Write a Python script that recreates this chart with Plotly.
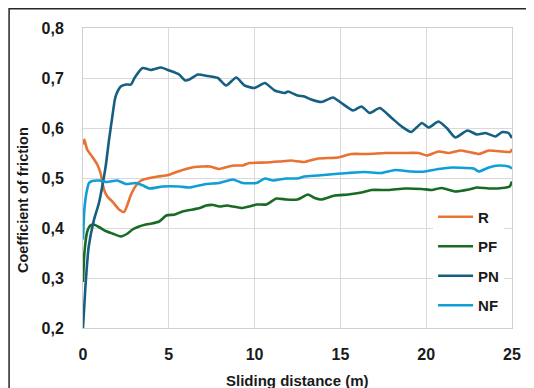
import plotly.graph_objects as go

# ---- data ----
r_x = [0, 0.08, 0.24, 0.53, 0.83, 1.02, 1.22, 1.42, 1.71, 2.1, 2.4, 2.8, 3.09, 3.39, 3.88, 4.37, 4.96,
       5.45, 6.0, 6.5, 7.0, 7.4, 7.9, 8.5, 8.83, 9.3, 9.7, 10.68, 11.46, 12.13, 12.9, 13.7, 14.86, 15.64,
       16.6, 17.6, 18.57, 19.55, 20.04, 20.72, 21.3, 22.0, 22.5, 23.07, 23.65, 24.43, 24.9, 25.0]
r_y = [0.567, 0.577, 0.557, 0.543, 0.527, 0.51, 0.477, 0.463, 0.453, 0.437, 0.432, 0.467, 0.485, 0.495,
       0.50, 0.503, 0.506, 0.512, 0.518, 0.522, 0.523, 0.523, 0.518, 0.523, 0.525, 0.525, 0.53, 0.531,
       0.533, 0.535, 0.532, 0.539, 0.541, 0.548, 0.548, 0.55, 0.55, 0.55, 0.545, 0.553, 0.55, 0.555,
       0.552, 0.548, 0.555, 0.553, 0.552, 0.558]

pf_x = [0, 0.08, 0.24, 0.43, 0.63, 0.93, 1.32, 1.71, 2.2, 2.6, 2.88, 3.19, 3.66, 4.0, 4.44, 4.86, 5.35,
        5.8, 6.4, 6.8, 7.17, 7.6, 7.95, 8.4, 8.73, 9.3, 9.7, 10.1, 10.68, 11.27, 11.85, 12.5, 12.7, 13.1,
        13.5, 13.9, 14.67, 15.45, 16.23, 16.8, 17.8, 18.77, 19.75, 20.33, 20.9, 21.7, 22.48, 22.97,
        23.65, 24.43, 24.86, 25.0]
pf_y = [0.292, 0.349, 0.392, 0.405, 0.407, 0.402, 0.394, 0.389, 0.383, 0.389, 0.397, 0.402, 0.407,
        0.409, 0.413, 0.425, 0.427, 0.433, 0.437, 0.44, 0.445, 0.446, 0.443, 0.445, 0.443, 0.44, 0.443,
        0.447, 0.447, 0.459, 0.457, 0.457, 0.46, 0.467, 0.46, 0.457, 0.465, 0.467, 0.471, 0.476, 0.476,
        0.479, 0.478, 0.476, 0.48, 0.473, 0.477, 0.481, 0.479, 0.48, 0.483, 0.493]

pn_x = [0, 0.14, 0.33, 0.63, 0.93, 1.12, 1.32, 1.52, 1.71, 1.85, 1.95, 2.2, 2.5, 2.8, 3.0, 3.47, 3.96,
        4.54, 5.03, 5.6, 5.96, 6.2, 6.69, 7.27, 7.86, 8.34, 8.93, 9.42, 10.0, 10.6, 11.17, 11.75, 11.95,
        12.5, 12.9, 13.3, 13.9, 14.57, 15.06, 15.74, 16.23, 16.7, 17.3, 17.99, 18.57, 19.12, 19.75,
        20.14, 20.72, 21.2, 21.7, 22.4, 22.97, 23.46, 24.04, 24.43, 24.8, 25.0]
pn_y = [0.20, 0.282, 0.362, 0.415, 0.45, 0.483, 0.523, 0.577, 0.623, 0.656, 0.668, 0.683, 0.687, 0.687,
        0.70, 0.72, 0.716, 0.721, 0.715, 0.707, 0.695, 0.697, 0.707, 0.704, 0.70, 0.685, 0.701, 0.685,
        0.68, 0.69, 0.675, 0.67, 0.673, 0.665, 0.663, 0.657, 0.652, 0.661, 0.65, 0.635, 0.643, 0.63,
        0.64, 0.62, 0.603, 0.592, 0.61, 0.601, 0.613, 0.60, 0.581, 0.595, 0.587, 0.59, 0.583, 0.592,
        0.59, 0.58]

nf_x = [0, 0.08, 0.2, 0.35, 0.53, 0.94, 1.4, 2.0, 2.5, 3.08, 3.5, 3.86, 4.64, 5.6, 6.2, 7.17, 7.95,
        8.73, 9.3, 10.1, 10.6, 11.07, 11.85, 12.5, 12.9, 13.7, 14.67, 15.45, 16.4, 17.4, 18.18, 19.16,
        19.94, 20.72, 21.5, 22.3, 22.77, 23.07, 23.65, 24.24, 24.8, 25.0]
nf_y = [0.377, 0.437, 0.47, 0.49, 0.494, 0.495, 0.492, 0.495, 0.488, 0.49, 0.485, 0.479, 0.483, 0.483,
        0.481, 0.488, 0.49, 0.497, 0.49, 0.49, 0.499, 0.495, 0.499, 0.499, 0.503, 0.505, 0.508, 0.51,
        0.512, 0.51, 0.516, 0.513, 0.513, 0.518, 0.521, 0.52, 0.519, 0.513, 0.521, 0.525, 0.523, 0.519]

series_names = ["R", "PF", "PN", "NF"]
series_colors = ["#E97132", "#196B24", "#156082", "#0F9ED5"]
x_ticks = [0, 5, 10, 15, 20, 25]
y_ticks = [0.2, 0.3, 0.4, 0.5, 0.6, 0.7, 0.8]

FONT = "Liberation Sans"
TXT = "#1a1a1a"

fig = go.Figure()
for name, color, xs, ys in zip(series_names, series_colors,
                               [r_x, pf_x, pn_x, nf_x], [r_y, pf_y, pn_y, nf_y]):
    fig.add_trace(go.Scatter(
        x=xs, y=ys, name=name, mode="lines", legendgroup=name,
        line=dict(color=color, width=2.6, shape="spline", smoothing=0.5),
    ))

fig.update_layout(
    width=526, height=380,
    margin=dict(l=74.5, r=22, t=20.3, b=60.3),
    paper_bgcolor="white", plot_bgcolor="white",
    separators=",.",
    font=dict(family=FONT, color=TXT),
    showlegend=True,
    legend=dict(
        x=0.816, y=0.425, xanchor="left", yanchor="top",
        bgcolor="white", borderwidth=0,
        font=dict(family=FONT, size=15, color=TXT, weight="bold"),
        tracegroupgap=7, itemwidth=35,
    ),
    xaxis=dict(
        range=[0, 25], tickvals=x_ticks, tickformat="d",
        showgrid=True, gridcolor="#d9d9d9", gridwidth=1,
        showline=True, linecolor="#d0d0d0", linewidth=1, mirror=True,
        zeroline=False, ticks="", ticklabelstandoff=12,
        tickfont=dict(family=FONT, size=16, color=TXT, weight="bold"),
    ),
    yaxis=dict(
        range=[0.2, 0.8], tickvals=y_ticks, tickformat=".1f",
        showgrid=True, gridcolor="#d9d9d9", gridwidth=1,
        showline=True, linecolor="#d0d0d0", linewidth=1, mirror=True,
        zeroline=False, ticks="", ticklabelstandoff=15,
        tickfont=dict(family=FONT, size=16, color=TXT, weight="bold"),
    ),
    annotations=[
        dict(text="Sliding distance (m)", xref="paper", yref="paper",
             x=0.5, y=-0.175, xanchor="center", yanchor="middle", showarrow=False,
             font=dict(family=FONT, size=15, color=TXT, weight="bold")),
        dict(text="Coefficient of friction", xref="paper", yref="paper",
             x=-0.141, y=0.425, xanchor="center", yanchor="middle", showarrow=False,
             textangle=-90,
             font=dict(family=FONT, size=14.5, color=TXT, weight="bold")),
    ],
    shapes=[
        dict(type="rect", xref="paper", yref="paper",
             x0=-0.1723, y0=-0.4, x1=1.2, y1=1.0645,
             line=dict(color="#262626", width=1.5), fillcolor="rgba(0,0,0,0)", layer="below"),
    ],
)

fig.write_html("out.html")
